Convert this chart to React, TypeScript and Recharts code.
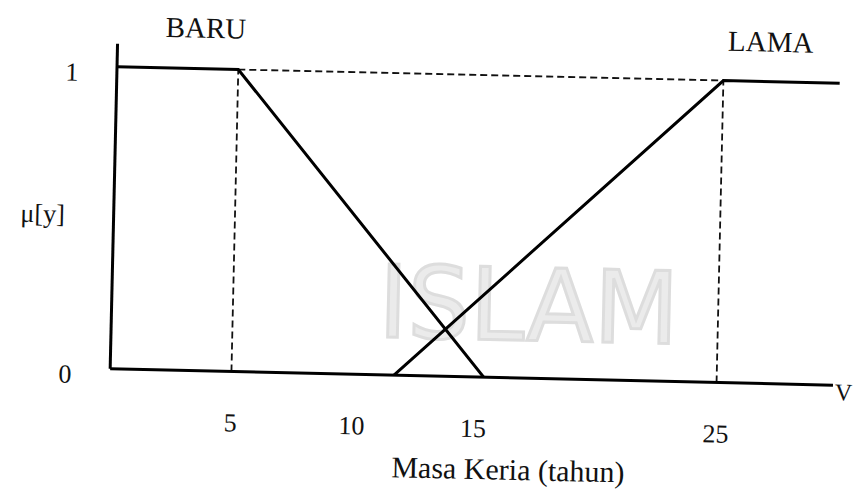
import React from 'react';
import { LineChart, Line, XAxis, YAxis } from 'recharts';

// Membership function "BARU" (x, μ)
const baruX = [0, 5, 15.4];
const baruY = [1, 1, 0];
// Membership function "LAMA" (x, μ)
const lamaX = [11.7, 25, 29.8];
const lamaY = [0, 1, 1];
// Dashed guide lines
const guideTopX = [5, 25];
const guideTopY = [1, 1];
const guide5X = [5, 5];
const guide25X = [25, 25];
const guideVY = [0, 1];
// Ticks
const xTicks = [5, 10, 15, 25];
const yTicks = [0, 1];

const toPts = (xs: number[], ys: number[]) => xs.map((x, i) => ({ x, y: ys[i] }));
const baruData = toPts(baruX, baruY);
const lamaData = toPts(lamaX, lamaY);
const guideTop = toPts(guideTopX, guideTopY);
const guide5 = toPts(guide5X, guideVY);
const guide25 = toPts(guide25X, guideVY);

const SERIF = '"Liberation Serif", "Times New Roman", serif';

const XTick = (props: any) => (
  <text x={props.x} y={props.y} dy={52} textAnchor="middle" fontSize={26} fontFamily={SERIF} fill="#111">
    {props.payload.value}
  </text>
);

const YTick = (props: any) => (
  <text x={props.x} y={props.y} dx={-37} dy={15} textAnchor="middle" fontSize={26} fontFamily={SERIF} fill="#111">
    {props.payload.value}
  </text>
);

export default function App() {
  return (
    <div style={{ position: 'fixed', left: 0, top: 0, width: 863, height: 495, overflow: 'hidden', background: '#fff' }}>
      <div style={{ width: 863, height: 495, transform: 'rotate(1.3deg)', transformOrigin: '431.5px 247.5px' }}>
        <LineChart width={863} height={495} margin={{ top: 51, right: 27, bottom: 89, left: 53 }}>
          <text x={380} y={338} fontSize={100} fontFamily='"DejaVu Sans", sans-serif' fill="#ebebeb" stroke="#dddddd" strokeWidth={3} textLength={300} lengthAdjust="spacingAndGlyphs">
            ISLAM
          </text>
          <XAxis
            type="number"
            dataKey="x"
            domain={[0, 29.8]}
            ticks={xTicks}
            allowDataOverflow
            axisLine={{ stroke: '#000', strokeWidth: 3 }}
            tickLine={false}
            tick={<XTick />}
            height={30}
          />
          <YAxis
            type="number"
            dataKey="y"
            domain={[0, 1.076]}
            ticks={yTicks}
            allowDataOverflow
            axisLine={{ stroke: '#000', strokeWidth: 3 }}
            tickLine={false}
            tick={<YTick />}
            width={60}
          />
          <Line data={guideTop} dataKey="y" type="linear" stroke="#111" strokeWidth={1.8} strokeDasharray="7 4" dot={false} isAnimationActive={false} />
          <Line data={guide5} dataKey="y" type="linear" stroke="#111" strokeWidth={1.8} strokeDasharray="7 4" dot={false} isAnimationActive={false} />
          <Line data={guide25} dataKey="y" type="linear" stroke="#111" strokeWidth={1.8} strokeDasharray="7 4" dot={false} isAnimationActive={false} />
          <Line data={baruData} dataKey="y" type="linear" stroke="#000" strokeWidth={3} dot={false} isAnimationActive={false} />
          <Line data={lamaData} dataKey="y" type="linear" stroke="#000" strokeWidth={3} dot={false} isAnimationActive={false} />
          <text x={201} y={43} textAnchor="middle" fontSize={29} fontFamily={SERIF} fill="#111">BARU</text>
          <text x={766} y={44} textAnchor="middle" fontSize={29} fontFamily={SERIF} fill="#111">LAMA</text>
          <text x={42} y={231} textAnchor="middle" fontSize={26} fontFamily={SERIF} fill="#111">μ[y]</text>
          <text x={513} y={478} textAnchor="middle" fontSize={30} fontFamily={SERIF} fill="#111">Masa Keria (tahun)</text>
          <text x={838} y={391} textAnchor="start" fontSize={24} fontFamily={SERIF} fill="#111">V</text>
        </LineChart>
      </div>
    </div>
  );
}
